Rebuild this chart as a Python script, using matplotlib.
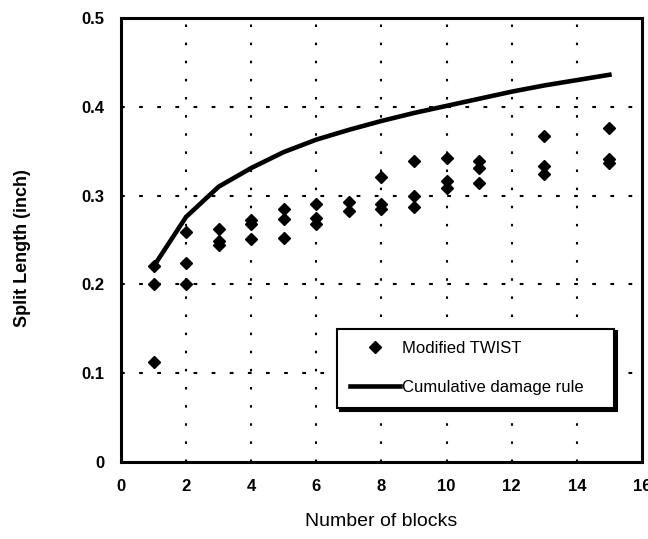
import matplotlib.pyplot as plt

# measured split lengths (Modified TWIST), several specimens per block count
blocks = [1, 1, 1,
          2, 2, 2,
          3, 3, 3,
          4, 4, 4,
          5, 5, 5,
          6, 6, 6,
          7, 7,
          8, 8, 8,
          9, 9, 9,
          10, 10, 10,
          11, 11, 11,
          13, 13, 13,
          15, 15, 15]
split_len = [0.221, 0.200, 0.113,
             0.259, 0.224, 0.200,
             0.262, 0.249, 0.244,
             0.272, 0.268, 0.251,
             0.285, 0.274, 0.252,
             0.291, 0.275, 0.268,
             0.293, 0.283,
             0.321, 0.291, 0.285,
             0.339, 0.299, 0.287,
             0.342, 0.316, 0.309,
             0.339, 0.331, 0.314,
             0.367, 0.333, 0.324,
             0.376, 0.341, 0.337]

# cumulative damage rule prediction
rule_blocks = [1, 2, 3, 4, 5, 6, 7, 8, 9, 10, 11, 12, 13, 14, 15]
rule_len = [0.220, 0.276, 0.310, 0.331, 0.349, 0.363, 0.374, 0.384,
            0.393, 0.401, 0.409, 0.417, 0.424, 0.430, 0.436]

xticks = [0, 2, 4, 6, 8, 10, 12, 14, 16]
yticks = [0, 0.1, 0.2, 0.3, 0.4, 0.5]
ytick_labels = ['0', '0.1', '0.2', '0.3', '0.4', '0.5']

plt.rcParams['font.family'] = ['Liberation Sans', 'DejaVu Sans']

fig = plt.figure(figsize=(6.48, 5.39), dpi=100)
ax = fig.add_axes([0.1867, 0.1429, 0.804, 0.8238])

ax.plot(blocks, split_len, linestyle='none', marker='D', markersize=6,
        color='black', label='Modified TWIST', zorder=3)
ax.plot(rule_blocks, rule_len, '-', color='black', linewidth=3.3,
        label='Cumulative damage rule', zorder=3)

ax.set_xlim(0, 16)
ax.set_ylim(0, 0.5)
ax.set_xticks(xticks)
ax.set_yticks(yticks)
ax.set_yticklabels(ytick_labels)
ax.tick_params(length=0, labelsize=12)
ax.tick_params(axis='x', pad=12)
ax.tick_params(axis='y', pad=12)
for lab in ax.get_xticklabels() + ax.get_yticklabels():
    lab.set_fontweight('bold')

# dotted grid with wide gaps
for x in xticks[1:-1]:
    ax.axvline(x, color='black', linewidth=1.5, dashes=(1.2, 7.5), zorder=1)
for y in yticks[1:-1]:
    ax.axhline(y, color='black', linewidth=1.5, dashes=(1.8, 6.9), zorder=1)

for sp in ax.spines.values():
    sp.set_linewidth(2.2)
    sp.set_color('black')

fig.text(23 / 648, 1 - 248 / 539, 'Split Length (inch)', rotation=90,
         ha='center', va='center', fontsize=13, fontweight='bold')
fig.text(381 / 648, 1 - 522 / 539, 'Number of blocks',
         ha='center', va='center', fontsize=14)

leg = ax.legend(loc='lower left', bbox_to_anchor=(0.415, 0.122, 0.531, 0.193),
                mode='expand', borderaxespad=0, fontsize=12, handlelength=3.0,
                handletextpad=0.15, labelspacing=1.45, borderpad=0.75,
                fancybox=False, framealpha=1, edgecolor='black',
                shadow={'color': 'black', 'alpha': 1})
leg.get_frame().set_linewidth(1.5)

fig.savefig('out.png', dpi=100)
